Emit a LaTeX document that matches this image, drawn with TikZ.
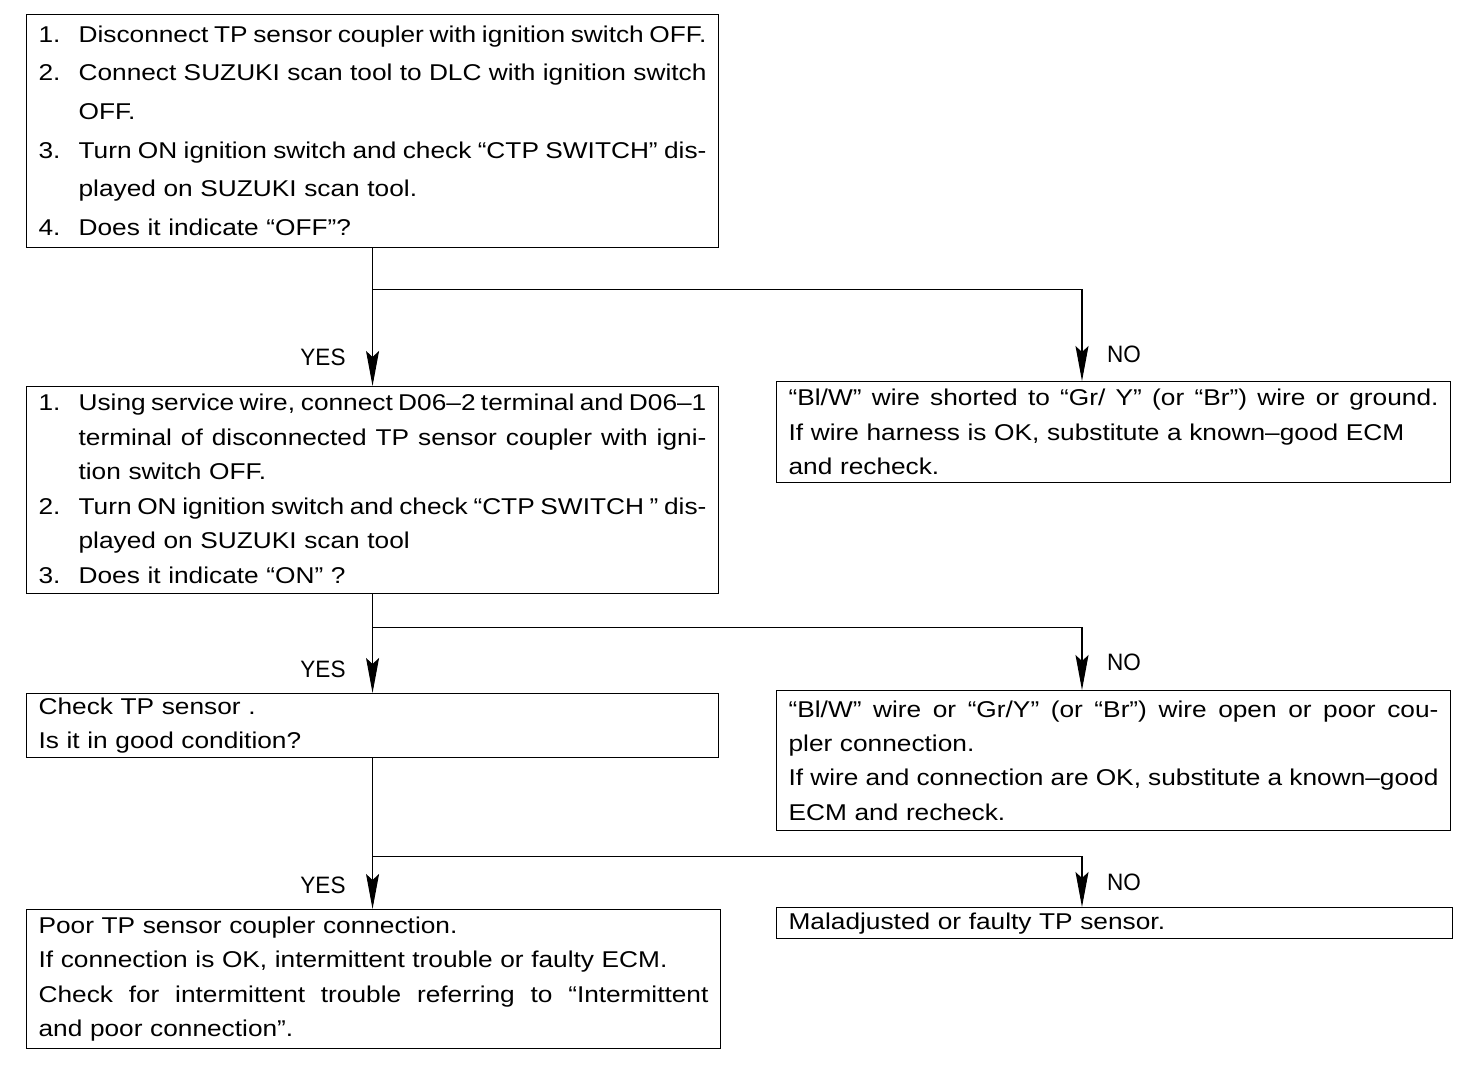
\documentclass[tikz,border=0pt]{standalone}
\usepackage{fontspec}
\setmainfont[FakeStretch=1.15]{Liberation Sans}
\newfontfamily\lblfont[FakeStretch=0.95]{Liberation Sans}
\usepackage{array}
\usetikzlibrary{arrows.meta,calc}

\newcommand{\fl}[1]{{\spaceskip=0pt\xspaceskip=0pt\makebox[\hsize][s]{#1}}}

\tikzset{
    box/.style={draw, line width=0.7pt, anchor=north west, inner xsep=0.24cm, inner ysep=0pt, align=left},
    txt/.style={font=\fontsize{13}{19.6}\selectfont},
    lbl/.style={font=\lblfont\fontsize{13.5}{16}\selectfont},
    flow/.style={line width=0.6pt, -{Stealth[length=7mm,width=2.6mm,inset=1.2mm]}},
    wire/.style={line width=0.6pt}
}

\begin{document}
\begin{tikzpicture}[x=0.02cm, y=-0.02cm]

            \useasboundingbox (0,0) rectangle (1472,1082);

            % left column
            \node[box, font=\fontsize{13}{22}\selectfont, minimum width=13.84cm, minimum height=4.66cm, text width=13.36cm] (q1) at (26,14)
            {\begin{tabular}{@{}p{0.8cm}@{}p{12.56cm}@{}}
                1. & \fl{Disconnect TP sensor coupler with ignition switch OFF.}\\
                2. & \fl{Connect SUZUKI scan tool to DLC with ignition switch}\\
                   & OFF.\\
                3. & \fl{Turn ON ignition switch and check “CTP SWITCH” dis-}\\
                   & played on SUZUKI scan tool.\\
                4. & Does it indicate “OFF”?
            \end{tabular}};

            \node[box, txt, minimum width=13.84cm, minimum height=4.14cm, text width=13.36cm] (q2) at (26,386)
            {\begin{tabular}{@{}p{0.8cm}@{}p{12.56cm}@{}}
                1. & \fl{Using service wire, connect D06–2 terminal and D06–1}\\
                   & \fl{terminal of disconnected TP sensor coupler with igni-}\\
                   & tion switch OFF.\\
                2. & \fl{Turn ON ignition switch and check “CTP SWITCH ” dis-}\\
                   & played on SUZUKI scan tool\\
                3. & Does it indicate “ON” ?
            \end{tabular}};

            \node[box, txt, minimum width=13.84cm, minimum height=1.28cm, text width=13.36cm] (q3) at (26,693)
            {Check TP sensor .\\
             Is it in good condition?};

            \node[box, txt, minimum width=13.88cm, minimum height=2.78cm, text width=13.4cm] (ok) at (26,909)
            {Poor TP sensor coupler connection.\\
             If connection is OK, intermittent trouble or faulty ECM.\\
             \fl{Check for intermittent trouble referring to “Intermittent}\\
             and poor connection”.};

            % right column
            \node[box, txt, minimum width=13.48cm, minimum height=2.02cm, text width=13.0cm] (f1) at (776,381)
            {\fl{“Bl/W” wire shorted to “Gr/ Y” (or “Br”) wire or ground.}\\
             If wire harness is OK, substitute a known–good ECM\\
             and recheck.};

            \node[box, txt, minimum width=13.48cm, minimum height=2.8cm, text width=13.0cm] (f2) at (776,690)
            {\fl{“Bl/W” wire or “Gr/Y” (or “Br”) wire open or poor cou-}\\
             pler connection.\\
             \fl{If wire and connection are OK, substitute a known–good}\\
             ECM and recheck.};

            \node[box, txt, minimum width=13.52cm, minimum height=0.62cm, text width=13.04cm] (f3) at (776,907)
            {Maladjusted or faulty TP sensor.};

            % branch points
            \coordinate (j1) at ($(q1.south)+(0,41)$);
            \coordinate (j2) at ($(q2.south)+(0,33)$);
            \coordinate (j3) at ($(q3.south)+(0,98)$);
            \coordinate (e1) at ($(f1.north west)+(306,0)$);
            \coordinate (e2) at ($(f2.north west)+(306,0)$);
            \coordinate (e3) at ($(f3.north west)+(306,0)$);

            \draw[flow] (q1.south) -- (q2.north);
            \draw[flow] (q2.south) -- (q3.north);
            \draw[flow] (q3.south) -- (q3.south |- ok.north);
            \draw[flow] (j1) -| (e1);
            \draw[flow] (j2) -| (e2);
            \draw[flow] (j3) -| (e3);

            % labels
            \node[lbl] (y1) at (323,357) {YES};
            \node[lbl] (y2) at (323,669) {YES};
            \node[lbl] (y3) at (323,885) {YES};
            \node[lbl] (n1) at (1124,354) {NO};
            \node[lbl] (n2) at (1124,662) {NO};
            \node[lbl] (n3) at (1124,882) {NO};

\end{tikzpicture}
\end{document}
